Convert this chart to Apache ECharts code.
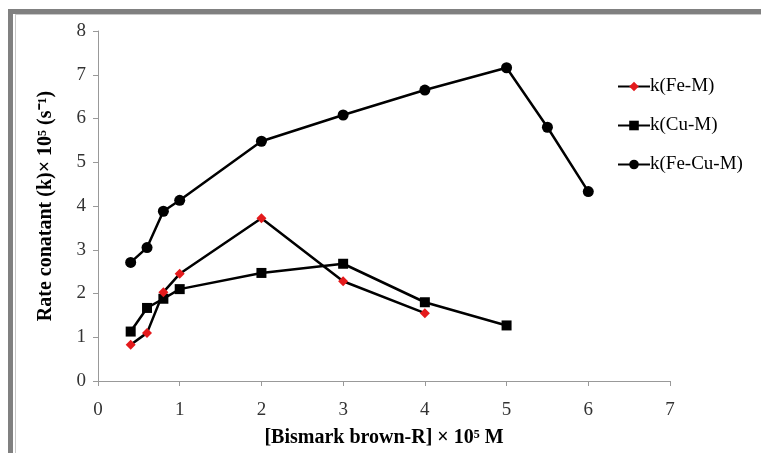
<!DOCTYPE html>
<html>
<head>
<meta charset="utf-8">
<script src="https://cdn.jsdelivr.net/npm/echarts@6/dist/echarts.min.js"></script>
<style>
html,body{margin:0;padding:0;background:#fff;}
#chart{width:761px;height:453px;}
</style>
</head>
<body>
<div id="chart"></div>
<script>
// concentrations (x) and rate constants
var xFe = [0.4, 0.6, 0.8, 1, 2, 3, 4];
var kFe = [0.83, 1.1, 2.03, 2.45, 3.72, 2.28, 1.55];
var xCu = [0.4, 0.6, 0.8, 1, 2, 3, 4, 5];
var kCu = [1.13, 1.67, 1.88, 2.1, 2.47, 2.68, 1.8, 1.27];
var xFeCu = [0.4, 0.6, 0.8, 1, 2, 3, 4, 5, 5.5, 6];
var kFeCu = [2.71, 3.05, 3.88, 4.13, 5.48, 6.08, 6.65, 7.16, 5.8, 4.33];
var names = ['k(Fe-M)', 'k(Cu-M)', 'k(Fe-Cu-M)'];

function pairs(xs, ys){
    var out = [];
    for (var i = 0; i < xs.length; i++) out.push([xs[i], ys[i]]);
    return out;
}

var serif = '"Liberation Serif", "Times New Roman", serif';
var chart = echarts.init(document.getElementById('chart'));

var option = {
    backgroundColor: '#fff',
    animation: false,
    grid: {left: 98, right: 91, top: 31, bottom: 72},
    graphic: [
        // outer frame of the scanned figure
        {type: 'rect', shape: {x: 8, y: 9, width: 753, height: 5}, style: {fill: '#808080'}},
        {type: 'rect', shape: {x: 8, y: 9, width: 5, height: 444}, style: {fill: '#808080'}},
        {type: 'rect', shape: {x: 15, y: 14, width: 746, height: 1}, style: {fill: '#c8c8c8'}},
        {type: 'rect', shape: {x: 15, y: 14, width: 1, height: 439}, style: {fill: '#c8c8c8'}}
    ],
    legend: {
        orient: 'vertical',
        left: 612,
        top: 72,
        itemWidth: 32,
        itemHeight: 12,
        itemGap: 20,
        data: names,
        textStyle: {fontFamily: serif, fontSize: 19, color: '#000', padding: [0, 0, 0, -5]}
    },
    xAxis: {
        type: 'value',
        min: 0, max: 7, interval: 1,
        name: '[Bismark brown-R] × 10⁵ M',
        nameLocation: 'middle',
        nameGap: 47,
        nameTextStyle: {fontFamily: serif, fontSize: 20, fontWeight: 'bold', color: '#000'},
        axisLine: {lineStyle: {color: '#999', width: 1}},
        axisTick: {show: true, inside: false, length: 5, lineStyle: {color: '#999'}},
        axisLabel: {fontFamily: serif, fontSize: 19, color: '#333', margin: 20},
        splitLine: {show: false}
    },
    yAxis: {
        type: 'value',
        min: 0, max: 8, interval: 1,
        name: 'Rate conatant (k)× 10⁵ (s⁻¹)',
        nameLocation: 'middle',
        nameGap: 42,
        nameTextStyle: {fontFamily: serif, fontSize: 20, fontWeight: 'bold', color: '#000'},
        axisLine: {show: true, lineStyle: {color: '#999', width: 1}},
        axisTick: {show: true, inside: false, length: 5, lineStyle: {color: '#999'}},
        axisLabel: {fontFamily: serif, fontSize: 19, color: '#333', margin: 12},
        splitLine: {show: false}
    },
    series: [
        {
            name: names[0],
            type: 'line',
            data: pairs(xFe, kFe),
            symbol: 'diamond',
            symbolSize: 10,
            itemStyle: {color: '#e41a1c'},
            lineStyle: {color: '#000', width: 2.5},
            z: 3
        },
        {
            name: names[1],
            type: 'line',
            data: pairs(xCu, kCu),
            symbol: 'rect',
            symbolSize: 10,
            itemStyle: {color: '#000'},
            lineStyle: {color: '#000', width: 2.5},
            z: 2
        },
        {
            name: names[2],
            type: 'line',
            data: pairs(xFeCu, kFeCu),
            symbol: 'circle',
            symbolSize: 11,
            itemStyle: {color: '#000'},
            lineStyle: {color: '#000', width: 2.5},
            z: 2
        }
    ]
};
chart.setOption(option);
</script>
</body>
</html>
